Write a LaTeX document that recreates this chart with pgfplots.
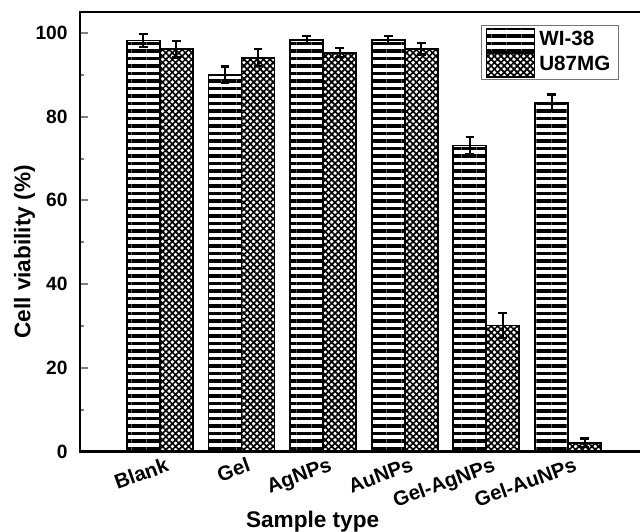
\documentclass[border=0pt]{standalone}
\usepackage{fontspec}
\setmainfont{Liberation Sans}
\usepackage{pgfplots}
\usepackage{pgfplotstable}
\pgfplotsset{compat=1.18}
\usetikzlibrary{patterns.meta}

% cell viability (%), with error bars
\pgfplotstableread{
x  wi    wierr  u87   u87err
1  98.2  1.5    96.1  2.0
2  90.0  2.0    94.1  2.0
3  98.3  1.0    95.3  1.1
4  98.3  1.0    96.2  1.4
5  73.1  2.0    30.1  3.0
6  83.3  2.0    2.1   1.0
}\viability

\begin{document}
\begin{tikzpicture}
\begin{axis}[
    name=ax,
    scale only axis,
    width=283pt, height=219.75pt,
    xmin=0.02, xmax=6.956,
    ymin=0, ymax=105,
    ybar=0pt, bar width=16.5pt,
    axis line style={line width=1.3pt},
    xtick={1,2,3,4,5,6},
    xticklabels={Blank,Gel,AgNPs,AuNPs,Gel-AgNPs,Gel-AuNPs},
    xtick style={draw=none},
    ytick={0,20,40,60,80,100},
    minor y tick num=1,
    ytick pos=left,
    tick align=inside,
    major tick length=3.75pt,
    minor tick length=1.8pt,
    ytick style={line width=1pt},
    minor y tick style={line width=1pt},
    /pgf/number format/assume math mode=true,
    xticklabel style={font=\fontsize{10.2}{12}\selectfont\bfseries, inner sep=0pt,
        xshift=2.5pt, yshift=-2.5pt, rotate=20, anchor=north east},
    yticklabel style={font=\fontsize{9.6}{11}\selectfont\bfseries, inner sep=0pt,
        anchor=east, xshift=-6pt},
    xlabel={Sample type},
    ylabel={Cell viability (\%)},
    label style={font=\fontsize{11.3}{13}\selectfont\bfseries},
    xlabel style={at={(rel axis cs:0.411,-0.1718)}, anchor=base},
    ylabel style={at={(rel axis cs:-0.0875,0.454)}, anchor=base},
    legend style={at={(0.952,0.970)}, anchor=north east, draw=black!55,
        line width=0.5pt, inner xsep=2pt, inner ysep=1pt,
        font=\fontsize{10.3}{12}\selectfont\bfseries,
        nodes={inner xsep=2pt, inner ysep=0.6pt}, cells={anchor=west}},
    legend image code/.code={\draw[#1, line width=0.9pt] (0pt,-5.8pt) rectangle (24pt,5.8pt);},
]
\addplot[draw=black, line width=0.9pt,
    pattern={Lines[angle=0, distance=3.75pt, line width=1.9pt]},
    error bars/.cd, y dir=both, y explicit,
    error bar style={line width=1pt, black},
    error mark options={rotate=90, line width=1.2pt, mark size=2.2pt, black}]
    table[x=x, y=wi, y error=wierr] {\viability};
\addlegendentry{WI-38}
\addplot[draw=black, line width=0.9pt,
    pattern={Hatch[angle=45, distance=2.3pt, line width=0.85pt]},
    error bars/.cd, y dir=both, y explicit,
    error bar style={line width=1pt, black},
    error mark options={rotate=90, line width=1.2pt, mark size=2.2pt, black}]
    table[x=x, y=u87, y error=u87err] {\viability};
\addlegendentry{U87MG}
\end{axis}
\pgfresetboundingbox
\path[use as bounding box] ([shift={(-40pt,-39.75pt)}]ax.south west)
    rectangle ([shift={(280pt,225.75pt)}]ax.south west);
\end{tikzpicture}
\end{document}
